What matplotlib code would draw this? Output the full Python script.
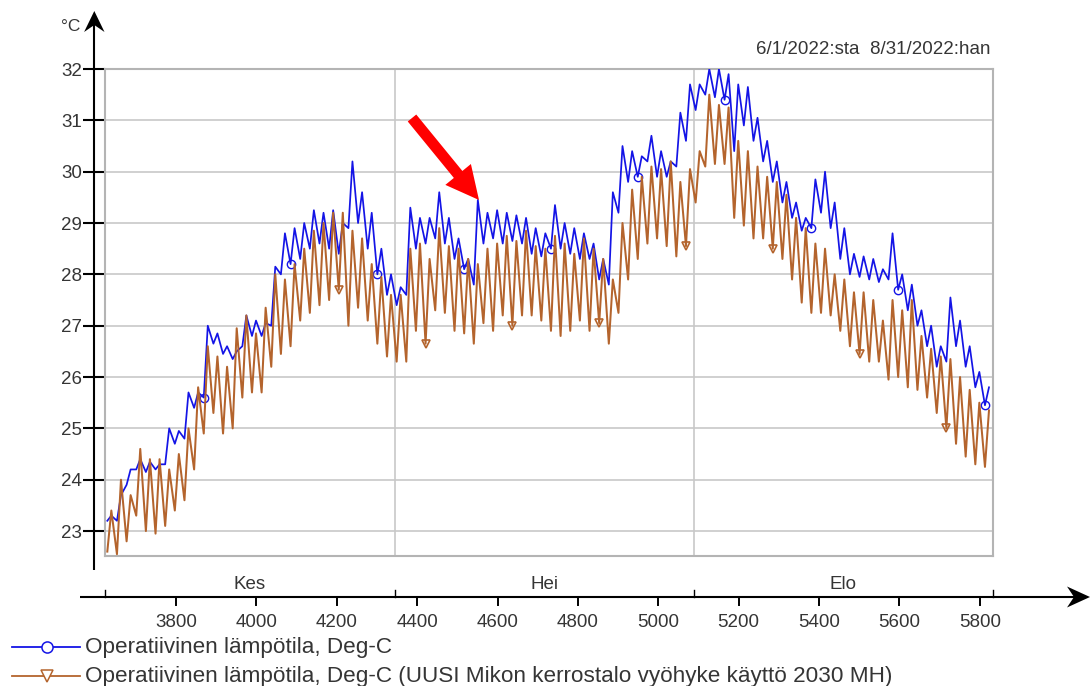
import numpy as np
import matplotlib
matplotlib.use("Agg")
import matplotlib.pyplot as plt
from matplotlib import transforms
from matplotlib.patches import Polygon, FancyArrow
from matplotlib.lines import Line2D

plt.rcParams['font.family'] = ['Liberation Sans', 'DejaVu Sans']

# ---- data -------------------------------------------------------------
START_HOUR = 3624                       # 1 June as hour of the year
MONTH_EDGES = [3624, 4344, 5088, 5832]  # Jun / Jul / Aug boundaries
MONTH_NAMES = ['Kes', 'Hei', 'Elo']
X_TICKS = [3800, 4000, 4200, 4400, 4600, 4800, 5000, 5200, 5400, 5600, 5800]
Y_TICKS = [23, 24, 25, 26, 27, 28, 29, 30, 31, 32]

# daily minimum / maximum operative temperature, 1 Jun - 31 Aug
blue_lo = [23.2, 23.2, 23.9, 24.2, 24.15, 24.2, 24.3, 24.7, 24.8, 25.4,
           25.6, 26.65, 26.45, 26.35, 26.6, 26.8, 26.8, 27.0, 28.0, 28.2,
           28.3, 28.5, 28.6, 28.5, 28.4, 28.9, 29.0, 28.5, 28.0, 27.6,
           27.4, 27.6, 28.5, 28.6, 28.7, 28.6, 28.3, 28.1, 27.8, 28.6,
           28.7, 28.6, 28.65, 28.6, 28.4, 28.35, 28.5, 28.5, 28.4, 28.3,
           28.3, 27.9, 27.8, 29.2, 29.8, 29.9, 30.2, 29.9, 29.9, 30.1,
           30.6, 31.2, 31.5, 31.45, 31.4, 30.4, 30.9, 30.6, 30.2, 29.8,
           29.4, 29.1, 28.85, 28.9, 29.2, 28.9, 28.3, 28.0, 27.95, 27.9,
           27.85, 27.9, 27.7, 27.3, 27.0, 26.6, 26.2, 26.3, 26.6, 26.2,
           25.8, 25.45]
blue_hi = [23.3, 23.7, 24.2, 24.4, 24.35, 24.3, 25.0, 24.95, 25.7, 25.7,
           27.0, 26.85, 26.6, 26.5, 27.2, 27.1, 27.05, 28.15, 28.8, 28.9,
           29.0, 29.25, 29.2, 29.25, 29.0, 30.2, 29.6, 29.2, 28.5, 28.0,
           27.75, 29.3, 29.1, 29.1, 29.6, 29.1, 28.7, 28.3, 29.45, 29.2,
           29.25, 29.2, 29.15, 29.1, 28.9, 28.8, 29.35, 29.0, 28.9, 28.8,
           28.6, 28.3, 29.6, 30.5, 30.4, 30.3, 30.7, 30.4, 30.2, 31.15,
           31.7, 31.7, 32.0, 32.0, 31.9, 31.7, 31.65, 31.05, 30.6, 30.2,
           29.8, 29.4, 29.1, 29.85, 30.0, 29.4, 28.9, 28.4, 28.35, 28.3,
           28.1, 28.8, 28.0, 27.8, 27.3, 27.0, 26.6, 27.55, 27.1, 26.6,
           26.1, 25.8]
brown_lo = [22.6, 22.55, 22.8, 23.3, 23.0, 22.95, 23.1, 23.4, 23.6, 24.2,
            24.9, 25.3, 24.9, 25.0, 25.6, 25.7, 25.7, 26.2, 26.45, 26.6,
            27.1, 27.25, 27.4, 27.5, 27.7, 27.0, 27.35, 27.1, 26.65, 26.4,
            26.3, 26.3, 26.9, 26.65, 27.3, 27.25, 26.9, 26.85, 26.65, 27.05,
            26.9, 27.2, 27.0, 27.2, 27.2, 27.1, 26.9, 26.8, 26.9, 27.1,
            26.9, 27.05, 26.65, 27.25, 27.9, 28.3, 28.6, 28.7, 28.55, 28.35,
            28.55, 29.4, 30.1, 30.15, 30.15, 29.1, 28.95, 28.7, 28.7, 28.5,
            28.3, 27.9, 27.45, 27.25, 27.25, 27.2, 26.9, 26.6, 26.45, 26.3,
            26.3, 25.95, 26.0, 25.8, 25.75, 25.6, 25.3, 25.0, 24.7, 24.45,
            24.3, 24.25]
brown_hi = [23.4, 24.0, 23.7, 24.6, 24.4, 24.4, 24.2, 24.5, 25.0, 25.8,
            26.6, 26.4, 26.2, 26.95, 27.2, 26.85, 27.35, 28.0, 27.9, 28.2,
            28.5, 28.85, 29.0, 29.2, 29.2, 28.85, 28.7, 28.2, 27.95, 27.6,
            27.6, 28.5, 28.6, 28.3, 28.9, 28.55, 28.5, 28.3, 28.2, 28.5,
            28.6, 28.75, 28.65, 28.85, 28.55, 28.5, 28.75, 28.6, 28.4, 28.7,
            28.5, 28.3, 27.9, 29.0, 29.65, 29.9, 30.1, 30.05, 30.2, 29.8,
            30.05, 30.4, 31.5, 31.3, 31.25, 30.6, 30.4, 30.1, 29.9, 29.8,
            29.55, 29.1, 28.9, 28.6, 28.5, 28.0, 27.9, 27.65, 27.65, 27.5,
            27.1, 27.5, 27.3, 27.5, 26.8, 26.55, 26.4, 26.35, 26.0, 25.75,
            25.5, 25.35]

series_labels = ["Operatiivinen lämpötila, Deg-C",
                 "Operatiivinen lämpötila, Deg-C (UUSI Mikon kerrostalo vyöhyke käyttö 2030 MH)"]
period_text = "6/1/2022:sta  8/31/2022:han"
unit_text = "°C"

BLUE = '#1414e6'
BROWN = '#b4642d'
TEXT = '#353535'
GRID = '#c8c8c8'
FRAME = '#b4b4b4'


def day_trace(lo, hi):
    """Interleave daily minima (early morning) and maxima (afternoon)."""
    days = np.arange(len(lo))
    x = np.empty(2 * len(lo))
    y = np.empty(2 * len(lo))
    x[0::2] = START_HOUR + 24 * days + 5
    x[1::2] = START_HOUR + 24 * days + 15
    y[0::2] = lo
    y[1::2] = hi
    return x, y


W, H = 1092, 686
fig = plt.figure(figsize=(W / 100, H / 100), dpi=100)

# plot area in pixel terms: x 105..993, y 69..556
ax = fig.add_axes([105.3 / W, 1 - 555.7 / H, (992.6 - 105.3) / W, (555.7 - 69) / H])
ax.set_xlim(MONTH_EDGES[0], MONTH_EDGES[-1])
ax.set_ylim(22.52, 32.0)

for s in ax.spines.values():
    s.set_color(FRAME)
    s.set_linewidth(1.5)

ax.set_yticks(Y_TICKS)
ax.set_yticklabels([str(v) for v in Y_TICKS])
ax.tick_params(axis='y', direction='out', length=15.8, width=1.5, color='black',
               pad=0.8, labelsize=13.5, labelcolor=TEXT)
ax.set_xticks([])
ax.grid(axis='y', color=GRID, linewidth=1.2)
ax.set_axisbelow(True)
for edge in MONTH_EDGES[1:-1]:
    ax.axvline(edge, color=GRID, linewidth=1.2, zorder=0.5)

bx, by = day_trace(blue_lo, blue_hi)
rx, ry = day_trace(brown_lo, brown_hi)
ax.plot(bx, by, color=BLUE, linewidth=1.25, marker='o', markersize=6.0,
        markerfacecolor='none', markeredgecolor=BLUE, markeredgewidth=1.0,
        markevery=(20, 18), zorder=3)
ax.plot(rx, ry, color=BROWN, linewidth=1.45, marker='v', markersize=5.5,
        markerfacecolor='none', markeredgecolor=BROWN, markeredgewidth=1.2,
        markevery=(48, 18), zorder=4)

# ---- overlay in pixel coordinates for the outer axis lines and legend ----
deco = fig.add_axes([0, 0, 1, 1], zorder=5)
deco.set_xlim(0, W)
deco.set_ylim(H, 0)
deco.axis('off')
deco.patch.set_visible(False)
blend = transforms.blended_transform_factory(ax.transData, deco.transData)

# vertical axis with arrow
deco.plot([94.3, 94.3], [570, 24], color='black', linewidth=1.5, solid_capstyle='butt')
deco.add_patch(Polygon([[94.3, 11], [104.5, 32], [94.3, 25], [84.1, 32]],
                       closed=True, color='black', lw=0))
deco.text(80, 31, unit_text, ha='right', va='baseline', fontsize=12.5, color=TEXT)

# horizontal axis with arrow
deco.plot([80, 1078], [597, 597], color='black', linewidth=1.5, solid_capstyle='butt')
deco.add_patch(Polygon([[1090, 597], [1067, 586.5], [1074, 597], [1067, 607.5]],
                       closed=True, color='black', lw=0))

for t in X_TICKS:
    deco.add_line(Line2D([t, t], [597, 605], transform=blend, color='black', linewidth=1.4))
    deco.text(t, 627, str(t), transform=blend, ha='center', va='baseline',
              fontsize=13.5, color=TEXT)
for edge in MONTH_EDGES:
    deco.add_line(Line2D([edge, edge], [590, 597], transform=blend, color='black', linewidth=1.0))
for a, b, name in zip(MONTH_EDGES[:-1], MONTH_EDGES[1:], MONTH_NAMES):
    deco.text((a + b) / 2, 589, name, transform=blend, ha='center', va='baseline',
              fontsize=13.5, color=TEXT)

deco.text(990, 54, period_text, ha='right', va='baseline', fontsize=13.5, color=TEXT)

# legend
for ly, col, mk, label in [(647, BLUE, 'o', series_labels[0]),
                           (676, BROWN, 'v', series_labels[1])]:
    deco.plot([12, 80], [ly, ly], color=col, linewidth=1.3)
    deco.plot([47], [ly], marker=mk, markersize=8, markerfacecolor='white',
              markeredgecolor=col, markeredgewidth=1.1, linestyle='none')
    deco.text(85, ly + 6, label, ha='left', va='baseline', fontsize=16.2, color=TEXT)

# red pointer arrow
deco.add_patch(FancyArrow(412, 118, 67, 82, width=11, head_width=33, head_length=33,
                          length_includes_head=True, color='#ff0000', lw=0))

fig.savefig('out.png', dpi=100)
